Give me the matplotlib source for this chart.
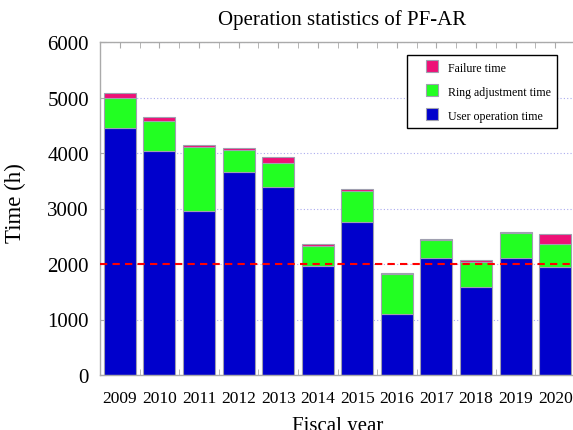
import matplotlib
matplotlib.use("Agg")
import matplotlib.pyplot as plt
from matplotlib.ticker import MultipleLocator
from matplotlib.lines import Line2D

plt.rcParams['font.family'] = ['Liberation Serif', 'DejaVu Serif']

years = ['2009', '2010', '2011', '2012', '2013', '2014', '2015', '2016', '2017', '2018', '2019', '2020']
user_time = [4456, 4041, 2950, 3652, 3387, 1964, 2762, 1094, 2114, 1591, 2108, 1951]
ring_adjust = [535, 541, 1158, 402, 427, 355, 548, 720, 313, 450, 456, 404]
failure_time = [85, 61, 31, 36, 108, 36, 36, 24, 29, 31, 18, 180]
threshold = 2000

c_user = '#0000cc'
c_ring = '#22ff22'
c_fail = '#ee1177'
edge = '#a0a0b0'

fig = plt.figure(figsize=(5.73, 4.31), dpi=100)
ax = fig.add_axes([100/573, 1-376/431, 475/573, 333/431])

x = list(range(len(years)))
w = 0.81
bottom2 = [u + r for u, r in zip(user_time, ring_adjust)]
ax.bar(x, user_time, width=w, color=c_user, edgecolor=edge, linewidth=0.8, zorder=2)
ax.bar(x, ring_adjust, width=w, bottom=user_time, color=c_ring, edgecolor=edge, linewidth=0.8, zorder=2)
ax.bar(x, failure_time, width=w, bottom=bottom2, color=c_fail, edgecolor=edge, linewidth=0.8, zorder=2)

ax.axhline(threshold, color='#ff0000', linestyle=(0, (3.5, 2.5)), linewidth=1.5, zorder=3)

ax.set_xlim(-0.5, 11.5)
ax.set_ylim(0, 6000)
ax.set_xticks(x)
ax.set_xticklabels(years, fontsize=12.5)
ax.xaxis.set_minor_locator(MultipleLocator(0.5))
ax.yaxis.set_major_locator(MultipleLocator(1000))
ax.tick_params(axis='y', labelsize=15, direction='in', length=4, color='#aaaaaa', pad=8)
ax.tick_params(axis='x', which='both', direction='in', length=4, color='#aaaaaa', top=True, pad=11)
ax.tick_params(axis='x', which='major', labelsize=12.5)
ax.yaxis.grid(True, linestyle=(0, (1, 2)), color='#aaaaee', linewidth=0.8, zorder=0)
ax.set_axisbelow(True)
for s in ax.spines.values():
    s.set_color('#aaaaaa')
    s.set_linewidth(1.0)

ax.set_title('Operation statistics of PF-AR', fontsize=15, pad=13, x=0.51)
ax.set_ylabel('Time (h)', fontsize=16.5)
ax.yaxis.set_label_coords(-0.155, 0.52)
ax.set_xlabel('Fiscal year', fontsize=15, labelpad=7)

handles = [Line2D([], [], linestyle='none', marker='s', markersize=9, markerfacecolor=c,
                  markeredgecolor=edge, markeredgewidth=0.8) for c in (c_fail, c_ring, c_user)]
labels = ['Failure time', 'Ring adjustment time', 'User operation time']
leg = ax.legend(handles, labels, loc='upper right', bbox_to_anchor=(0.962, 0.961), fontsize=8.6,
                frameon=True, fancybox=False, edgecolor='black', framealpha=1,
                handlelength=3.1, handleheight=1.1, labelspacing=0.95, borderpad=0.5,
                handletextpad=-0.2, borderaxespad=0)
leg.get_frame().set_linewidth(1.0)

fig.savefig('out.png', dpi=100)
